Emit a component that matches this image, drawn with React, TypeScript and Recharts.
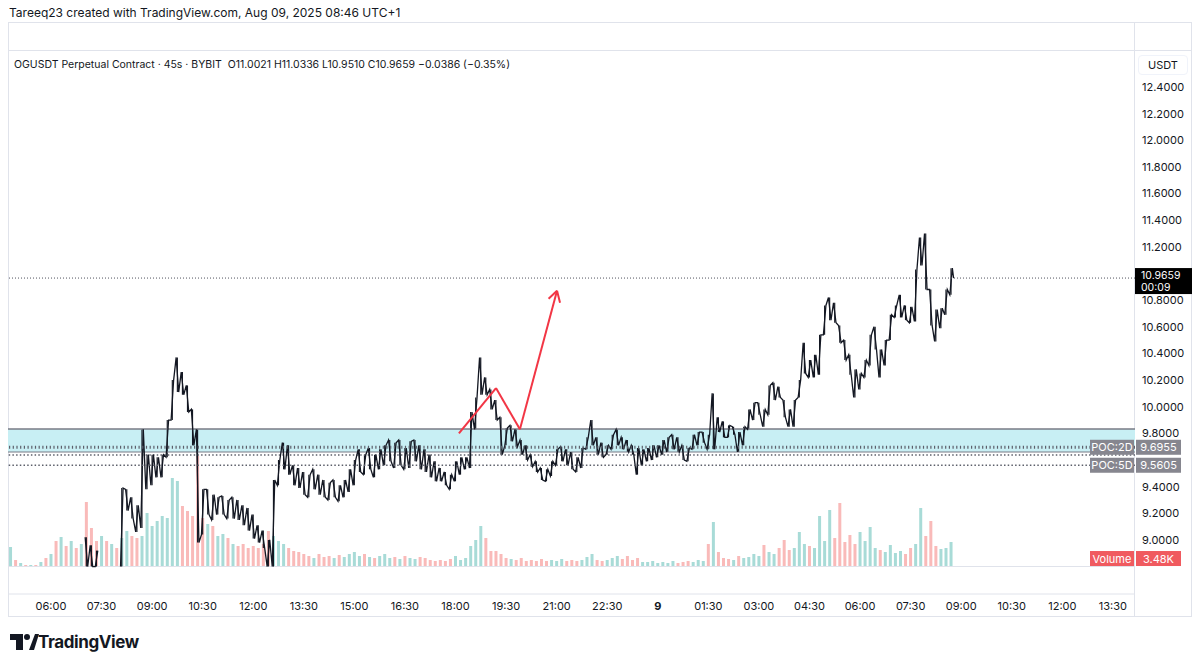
import React from 'react';
import { ComposedChart, Bar, Line, XAxis, YAxis, ReferenceLine, ReferenceArea, Cell } from 'recharts';

// 45s candles of OGUSDT, grouped in 9 minute buckets (0.15 h); time in hours from Aug 8 00:00
const firstBucketHour = 4.8;
const bucketHours = 0.15;

const bucketHigh = [
  null, null, null, null, null, null, null, null, null, null,
  null, null, null, null, null, 9.02, 8.96, 8.92, null, null,
  null, null, 9.39, 9.38, 9.32, 9.26, 9.83, 9.64, 9.64, 9.62,
  9.64, 9.90, 10.20, 10.37, 10.26, 10.16, 9.98, 9.83, 9.38, 9.38,
  9.34, 9.32, 9.33, 9.30, 9.32, 9.30, 9.26, 9.24, 9.19, 9.11,
  9.07, 9.00, 9.45, 9.60, 9.73, 9.71, 9.56, 9.54, 9.51, 9.49,
  9.53, 9.49, 9.45, 9.43, 9.45, 9.41, 9.45, 9.53, 9.60, 9.68,
  9.64, 9.69, 9.64, 9.68, 9.71, 9.75, 9.73, 9.75, 9.69, 9.74,
  9.75, 9.71, 9.68, 9.64, 9.59, 9.54, 9.51, 9.49, 9.59, 9.62,
  9.62, 9.96, 10.07, 10.37, 10.22, 10.13, 10.05, 9.92, 9.84, 9.86,
  9.83, 9.75, 9.71, 9.64, 9.59, 9.54, 9.53, 9.59, 9.68, 9.70,
  9.68, 9.66, 9.62, 9.69, 9.77, 9.90, 9.77, 9.73, 9.71, 9.79,
  9.83, 9.77, 9.75, 9.71, 9.69, 9.68, 9.69, 9.71, 9.71, 9.75,
  9.77, 9.79, 9.77, 9.71, 9.69, 9.79, 9.81, 9.81, 9.79, 10.10,
  9.92, 9.89, 9.86, 9.85, 9.81, 9.85, 9.98, 10.03, 10.03, 9.98,
  10.16, 10.18, 10.15, 10.05, 9.98, 10.05, 10.20, 10.48, 10.35, 10.39,
  10.54, 10.76, 10.82, 10.78, 10.61, 10.50, 10.39, 10.28, 10.25, 10.35,
  10.54, 10.60, 10.43, 10.50, 10.69, 10.76, 10.84, 10.76, 10.75, 11.03,
  11.27, 11.30, 10.88, 10.73, 10.74, 10.88, 11.04,
];

const bucketLow = [
  null, null, null, null, null, null, null, null, null, null,
  null, null, null, null, null, 8.80, 8.80, 8.80, null, null,
  null, null, 8.80, 9.22, 9.16, 9.06, 9.09, 9.38, 9.41, 9.47,
  9.47, 9.62, 9.90, 10.11, 10.09, 9.96, 9.71, 8.98, 9.04, 9.19,
  9.15, 9.19, 9.19, 9.16, 9.16, 9.15, 9.11, 9.07, 9.01, 8.98,
  8.94, 8.80, 8.80, 9.41, 9.53, 9.49, 9.41, 9.39, 9.34, 9.32,
  9.38, 9.34, 9.32, 9.30, 9.32, 9.29, 9.32, 9.36, 9.41, 9.51,
  9.49, 9.53, 9.47, 9.53, 9.56, 9.59, 9.54, 9.56, 9.53, 9.54,
  9.59, 9.53, 9.51, 9.47, 9.44, 9.44, 9.41, 9.38, 9.44, 9.49,
  9.53, 9.54, 9.83, 10.09, 10.09, 9.98, 9.90, 9.64, 9.71, 9.74,
  9.70, 9.64, 9.60, 9.55, 9.51, 9.45, 9.44, 9.48, 9.56, 9.59,
  9.56, 9.53, 9.51, 9.54, 9.68, 9.71, 9.64, 9.62, 9.64, 9.68,
  9.71, 9.68, 9.66, 9.64, 9.49, 9.56, 9.59, 9.60, 9.62, 9.64,
  9.66, 9.68, 9.66, 9.60, 9.59, 9.68, 9.71, 9.73, 9.68, 9.68,
  9.81, 9.77, 9.77, 9.79, 9.66, 9.71, 9.83, 9.90, 9.94, 9.85,
  9.94, 10.05, 10.07, 9.92, 9.85, 9.85, 10.07, 10.25, 10.22, 10.22,
  10.24, 10.54, 10.65, 10.63, 10.48, 10.35, 10.24, 10.07, 10.13, 10.22,
  10.31, 10.43, 10.22, 10.31, 10.50, 10.67, 10.67, 10.65, 10.63, 10.64,
  11.06, 10.88, 10.61, 10.49, 10.59, 10.69, 10.84,
];

// volume per bucket, thousands
const bucketVolumeK = [
  19, 6, 3, 1, 1, 1, 4, 8, 12, 25,
  29, 20, 25, 18, 22, 64, 38, 25, 30, 25,
  22, 18, 28, 35, 30, 28, 30, 53, 40, 45,
  50, 48, 88, 85, 60, 55, 50, 110, 48, 42,
  40, 30, 32, 28, 22, 20, 22, 18, 20, 18,
  22, 35, 30, 25, 22, 18, 15, 14, 12, 10,
  8, 12, 9, 10, 8, 11, 9, 12, 14, 10,
  12, 9, 8, 10, 12, 8, 9, 7, 10, 8,
  7, 9, 8, 6, 5, 6, 5, 7, 10, 6,
  8, 20, 26, 40, 28, 15, 15, 12, 8, 7,
  6, 8, 5, 6, 5, 7, 5, 6, 5, 7,
  5, 6, 5, 6, 9, 12, 6, 5, 6, 8,
  10, 7, 10, 6, 8, 4, 4, 5, 3, 4,
  3, 5, 3, 4, 5, 4, 6, 5, 22, 44,
  14, 8, 7, 6, 10, 8, 9, 12, 10, 21,
  14, 12, 18, 26, 16, 18, 34, 22, 20, 18,
  50, 25, 56, 28, 63, 24, 31, 22, 34, 25,
  39, 18, 16, 14, 21, 13, 15, 12, 18, 22,
  58, 30, 45, 20, 17, 18, 24,
];

const lastClose = 10.9659;
const lastVolumeK = 3.48;
const timeDomain = [4.724, 38.156];
const priceDomain = [8.594, 12.678];
const volumeDomain = [-28, 516];
const timeTicks = [6, 7.5, 9, 10.5, 12, 13.5, 15, 16.5, 18, 19.5, 21, 22.5, 24, 25.5, 27, 28.5, 30, 31.5, 33, 34.5, 36, 37.5];
const priceTicks = [9.0, 9.2, 9.4, 9.8, 10.0, 10.2, 10.4, 10.6, 10.8, 11.2, 11.4, 11.6, 11.8, 12.0, 12.2, 12.4];
const zoneTop = 9.832;
const zoneBottom = 9.66;
const poc2D = 9.6955;
const pocHidden = 9.637;
const poc5D = 9.5605;
const arrowPath = [
  { t: 18.1, p: 9.8 },
  { t: 19.2, p: 10.14 },
  { t: 19.91, p: 9.83 },
  { t: 21.01, p: 10.87 },
];
const arrowHead = [
  { t: 20.76, p: 10.81 },
  { t: 21.01, p: 10.87 },
  { t: 21.1, p: 10.78 },
];

const FONT = 'Inter, "Noto Sans", Roboto, sans-serif';
const TEXT = '#131722';
const BORDER = '#e0e3eb';

const buckets = bucketVolumeK.map((vol, i) => {
  const hi = bucketHigh[i];
  const lo = bucketLow[i];
  const has = hi != null && lo != null;
  return { t: firstBucketHour + i * bucketHours, hi, lo, range: has ? [lo, hi] : null, mid: has ? (hi + lo) / 2 : null, vol };
});

const volUp = buckets.map((b, i) => {
  const prev = buckets[i - 1];
  if (b.mid == null || !prev || prev.mid == null) return i % 2 === 0;
  return b.mid >= prev.mid;
});

// each bucket drawn as a low/high zigzag, ordered along the trend
const pricePath: { t: number; p: number | null }[] = [];
buckets.forEach((b, i) => {
  if (b.hi == null || b.lo == null) {
    pricePath.push({ t: b.t, p: null });
    return;
  }
  const next = buckets[i + 1];
  const rising = next && next.mid != null ? next.mid > (b.mid as number) : true;
  const first = rising ? b.lo : b.hi;
  const second = rising ? b.hi : b.lo;
  pricePath.push({ t: b.t - bucketHours / 4, p: first }, { t: b.t + bucketHours / 4, p: second });
});
pricePath.push({ t: buckets[buckets.length - 1].t + bucketHours / 2, p: lastClose });

const fmtTime = (h: number) => {
  if (h === 24) return '9';
  const hh = h % 24;
  const m = hh % 1 ? '30' : '00';
  return `${String(Math.floor(hh)).padStart(2, '0')}:${m}`;
};

const TimeTick = (props: any) => {
  const { x, y, payload } = props;
  return (
    <text x={x} y={y + 12} textAnchor="middle" dominantBaseline="central" fontSize={11}
      fontFamily={FONT} fontWeight={payload.value === 24 ? 700 : 400} fill={TEXT}>
      {fmtTime(payload.value)}
    </text>
  );
};

const AxisTag = (props: any) => {
  const { viewBox, name, value, bg, dy = 0 } = props;
  if (!viewBox) return null;
  const x = viewBox.x + viewBox.width;
  const y = viewBox.y + dy;
  return (
    <g>
      <rect x={x - 45} y={y - 7.5} width={44} height={15} fill={bg} />
      <text x={x - 23} y={y} textAnchor="middle" dominantBaseline="central" fontSize={11} fontFamily={FONT} fill="#fff">{name}</text>
      <rect x={x + 1} y={y - 7.5} width={45} height={15} fill={bg} />
      <text x={x + 23.5} y={y} textAnchor="middle" dominantBaseline="central" fontSize={11} fontFamily={FONT} fill="#fff">{value}</text>
    </g>
  );
};

const PriceTag = (props: any) => {
  const { viewBox } = props;
  if (!viewBox) return null;
  const x = viewBox.x + viewBox.width;
  const y = viewBox.y;
  return (
    <g>
      <rect x={x} y={y - 10} width={57} height={26} fill="#000" />
      <text x={x + 6} y={y - 3} dominantBaseline="central" fontSize={10.5} fontFamily={FONT} fill="#fff">{lastClose.toFixed(4)}</text>
      <text x={x + 6} y={y + 9.5} dominantBaseline="central" fontSize={10.5} fontFamily={FONT} fill="#fff">00:09</text>
    </g>
  );
};

const Logo = () => (
  <svg width={30} height={20} style={{ position: 'absolute', left: 9, top: 632 }}>
    <rect x={1} y={2} width={13} height={6} fill={TEXT} />
    <rect x={7} y={2} width={7} height={16} fill={TEXT} />
    <circle cx={18} cy={5} r={3} fill={TEXT} />
    <polygon points="20,18 26,2 30,2 25,18" fill={TEXT} />
  </svg>
);

export default function App() {
  const line = (top: number, left: number, width: number) => (
    <div style={{ position: 'absolute', top, left, width, height: 1, background: BORDER }} />
  );
  return (
    <div style={{ position: 'relative', width: 1200, height: 668, margin: -8, background: '#fff', fontFamily: FONT, color: TEXT, overflow: 'hidden' }}>
      <div style={{ position: 'absolute', left: 9, top: 5, fontSize: 12, lineHeight: '15px', whiteSpace: 'nowrap' }}>
        Tareeq23 created with TradingView.com, Aug 09, 2025 08:46 UTC+1
      </div>
      <div style={{ position: 'absolute', left: 8, top: 22, width: 1184, height: 595, border: `1px solid ${BORDER}`, boxSizing: 'border-box' }} />
      {line(50, 8, 1184)}
      {line(566, 8, 1127)}
      <div style={{ position: 'absolute', left: 1134, top: 22, width: 1, height: 595, background: BORDER }} />

      <div style={{ position: 'absolute', left: 8, top: 50 }}>
        <ComposedChart width={1184} height={567} data={buckets} margin={{ top: 0, right: 0, bottom: 0, left: 0 }}>
          <XAxis dataKey="t" type="number" domain={timeDomain} ticks={timeTicks} interval={0} allowDataOverflow
            tick={<TimeTick />} tickLine={false} tickSize={0} tickMargin={0} height={23} axisLine={{ stroke: BORDER }} />
          <XAxis xAxisId="p" dataKey="t" type="number" domain={timeDomain} allowDataOverflow hide />
          <YAxis yAxisId="price" orientation="right" width={57} domain={priceDomain} ticks={priceTicks} allowDataOverflow
            tickLine={false} tickSize={0} tickMargin={7} axisLine={false}
            tick={{ fontSize: 11, fill: TEXT, fontFamily: FONT }} tickFormatter={(v: number) => v.toFixed(4)} />
          <YAxis yAxisId="vol" hide domain={volumeDomain} allowDataOverflow />

          <ReferenceArea yAxisId="price" y1={zoneBottom} y2={zoneTop} fill="#c8eff4" fillOpacity={1} stroke="none" />
          <ReferenceLine yAxisId="price" y={zoneTop} stroke="#787b86" strokeWidth={1.5} />
          <ReferenceLine yAxisId="price" y={zoneBottom} stroke="#787b86" strokeWidth={1} />
          <ReferenceLine yAxisId="price" y={pocHidden} stroke="#5d606b" strokeWidth={1.5} strokeDasharray="1.5 2.2" />

          <Bar yAxisId="vol" dataKey="vol" barSize={3} isAnimationActive={false}>
            {buckets.map((b, i) => (
              <Cell key={`v-${i}`} fill={volUp[i] ? '#26a69a' : '#ef5350'} fillOpacity={0.4} />
            ))}
          </Bar>

          <Bar xAxisId="p" yAxisId="price" dataKey="range" barSize={2} fill={TEXT} isAnimationActive={false} />
          <Line xAxisId="p" yAxisId="price" data={pricePath} dataKey="p" type="linear" stroke={TEXT} strokeWidth={1.3}
            dot={false} activeDot={false} connectNulls={false} isAnimationActive={false} />

          <ReferenceLine yAxisId="price" y={lastClose} stroke="#50535e" strokeWidth={1} strokeDasharray="1 2"
            label={(p: any) => <PriceTag {...p} />} />
          <ReferenceLine yAxisId="price" y={poc2D} stroke="#5d606b" strokeWidth={3} strokeDasharray="1.2 2.5"
            label={(p: any) => <AxisTag {...p} name="POC:2D" value={poc2D.toFixed(4)} bg="#86868f" />} />
          <ReferenceLine yAxisId="price" y={poc5D} stroke="#5d606b" strokeWidth={1.5} strokeDasharray="1.5 2.2"
            label={(p: any) => <AxisTag {...p} name="POC:5D" value={poc5D.toFixed(4)} bg="#86868f" />} />
          <ReferenceLine yAxisId="vol" y={lastVolumeK} stroke="none"
            label={(p: any) => <AxisTag {...p} name="Volume" value={`${lastVolumeK.toFixed(2)}K`} bg="#f05a5f" dy={-4} />} />

          {arrowPath.slice(1).map((pt, i) => (
            <ReferenceLine key={`a-${i}`} yAxisId="price" stroke="#f23645" strokeWidth={2}
              segment={[{ x: arrowPath[i].t, y: arrowPath[i].p }, { x: pt.t, y: pt.p }]} />
          ))}
          {arrowHead.slice(1).map((pt, i) => (
            <ReferenceLine key={`h-${i}`} yAxisId="price" stroke="#f23645" strokeWidth={2}
              segment={[{ x: arrowHead[i].t, y: arrowHead[i].p }, { x: pt.t, y: pt.p }]} />
          ))}
        </ComposedChart>
      </div>

      <div style={{ position: 'absolute', left: 14, top: 58, fontSize: 10.5, lineHeight: '14px', whiteSpace: 'pre' }}>
        {'OGUSDT Perpetual Contract · 45s · BYBIT  O11.0021 H11.0336 L10.9510 C10.9659 −0.0386 (−0.35%)'}
      </div>
      <div style={{ position: 'absolute', left: 1138, top: 55, width: 50, height: 20, borderRadius: 4, border: '1px solid #f0f3fa', boxSizing: 'border-box', fontSize: 11, lineHeight: '18px', textAlign: 'center', background: '#fff' }}>
        USDT
      </div>

      <Logo />
      <div style={{ position: 'absolute', left: 38, top: 631, fontSize: 17, fontWeight: 700, letterSpacing: -0.4, lineHeight: '22px' }}>
        TradingView
      </div>
    </div>
  );
}
